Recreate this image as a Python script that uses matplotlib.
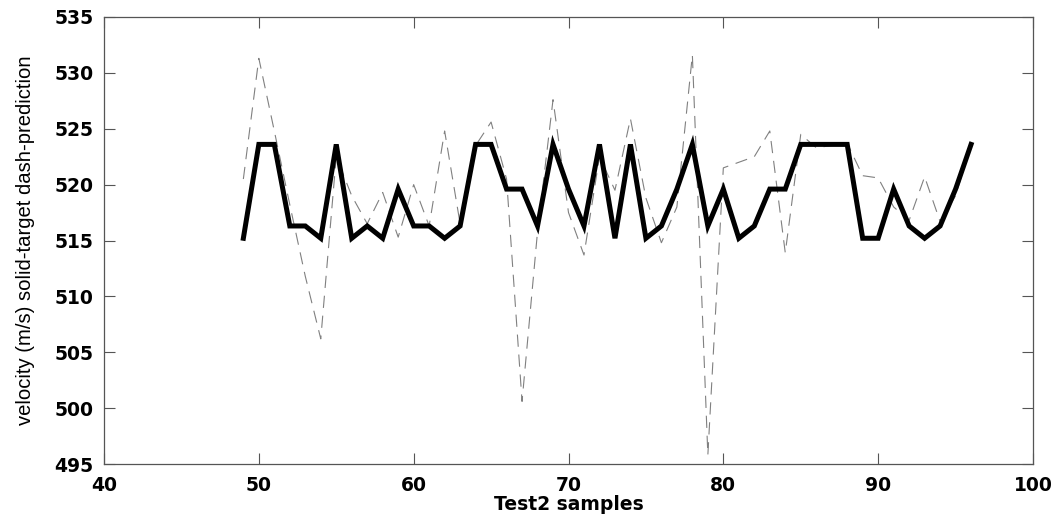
import matplotlib
matplotlib.use("Agg")
import matplotlib.pyplot as plt
from matplotlib import font_manager

# ---- data ----
samples = list(range(49, 97))
target = [515.2, 523.6, 523.6, 516.3, 516.3, 515.2, 523.6, 515.2, 516.3, 515.2,
          519.6, 516.3, 516.3, 515.2, 516.3, 523.6, 523.6, 519.6, 519.6, 516.3,
          523.6, 519.6, 516.3, 523.6, 515.2, 523.6, 515.2, 516.3, 519.6, 523.6,
          516.3, 519.6, 515.2, 516.3, 519.6, 519.6, 523.6, 523.6, 523.6, 523.6,
          515.2, 515.2, 519.6, 516.3, 515.2, 516.3, 519.6, 523.6]
prediction = [520.5, 531.3, 524.8, 518.2, 511.8, 506.2, 522.5, 519.0, 516.5, 519.3,
              515.3, 520.0, 516.3, 524.8, 516.5, 523.5, 525.6, 520.5, 500.6, 515.8,
              527.6, 517.5, 513.7, 522.5, 519.5, 525.9, 518.8, 514.8, 518.0, 531.6,
              495.8, 521.5, 522.0, 522.5, 524.8, 513.9, 524.5, 523.3, 523.5, 523.7,
              520.8, 520.6, 518.0, 516.8, 520.7, 516.7, 519.0, 523.6]
xticks = [40, 50, 60, 70, 80, 90, 100]
yticks = [495, 500, 505, 510, 515, 520, 525, 530, 535]
xlabel = "Test2 samples"
ylabel = "velocity (m/s) solid-target dash-prediction"

installed = {f.name for f in font_manager.fontManager.ttflist}
narrow = "Liberation Sans Narrow" if "Liberation Sans Narrow" in installed else "Liberation Sans"

fig = plt.figure(figsize=(10.61, 5.15), dpi=100)
ax = fig.add_axes([104/1061, 1-464/515, (1033-104)/1061, (464-17)/515])

ax.plot(samples, prediction, color="#808080", lw=0.8, dashes=(11, 7))
ax.plot(samples, target, color="black", lw=3.6, solid_joinstyle="miter")

ax.set_xlim(40, 100)
ax.set_ylim(495, 535)
ax.set_xticks(xticks)
ax.set_yticks(yticks)
ax.tick_params(direction="in", length=8, width=0.8, top=True, right=True,
               color="#555555")
for lab in ax.get_xticklabels() + ax.get_yticklabels():
    lab.set_fontfamily("DejaVu Sans")
    lab.set_fontweight("bold")
    lab.set_fontsize(13.5)
ax.tick_params(axis="y", pad=7.5)
ax.tick_params(axis="x", pad=8.5)
for s in ax.spines.values():
    s.set_color("#555555")
    s.set_linewidth(0.9)

ax.set_xlabel(xlabel, fontfamily="DejaVu Sans", fontweight="bold", fontsize=13.5, labelpad=0)
ax.set_ylabel(ylabel, fontfamily=narrow, fontsize=14.6)
ax.yaxis.set_label_coords(-0.0743, 0.5)

fig.savefig("out.png", dpi=100)
